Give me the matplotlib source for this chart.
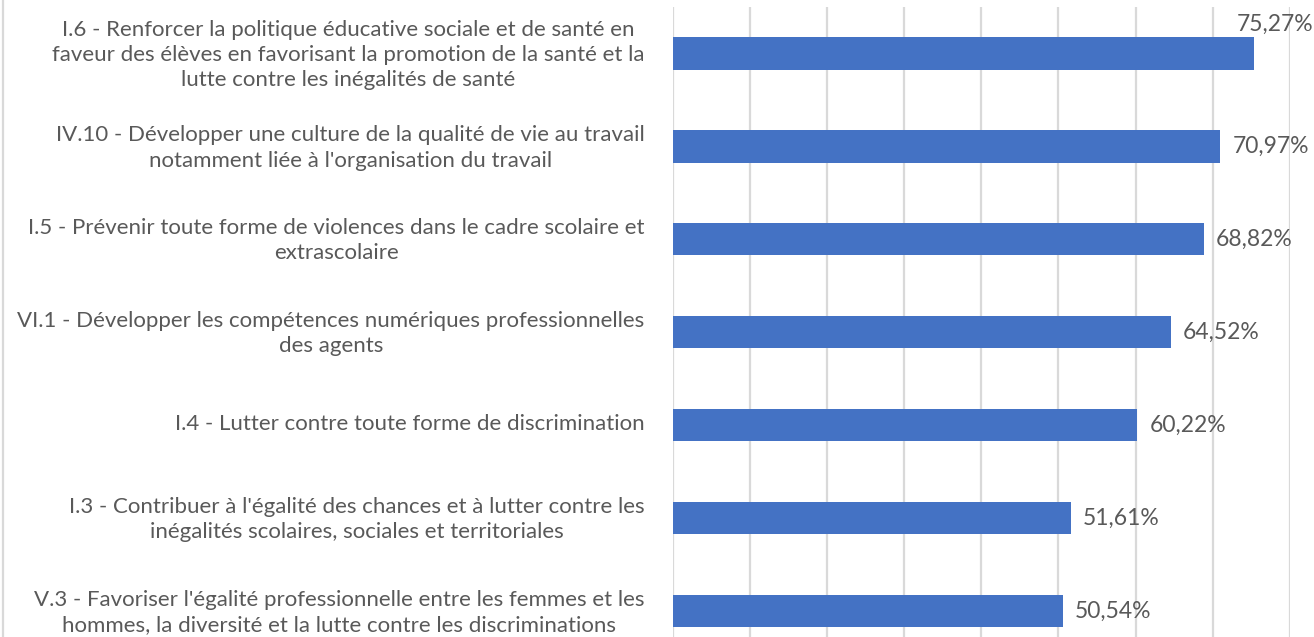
import matplotlib
matplotlib.use("Agg")
import matplotlib.pyplot as plt
import matplotlib.transforms as mtransforms
from matplotlib.lines import Line2D

# Categories, top to bottom
categories = [
    "I.6 - Renforcer la politique éducative sociale et de santé en\n"
    "faveur des élèves en favorisant la promotion de la santé et la\n"
    "lutte contre les inégalités de santé",
    "IV.10 - Développer une culture de la qualité de vie au travail\n"
    "notamment liée à l'organisation du travail",
    "I.5 - Prévenir toute forme de violences dans le cadre scolaire et\n"
    "extrascolaire",
    "VI.1 - Développer les compétences numériques professionnelles\n"
    "des agents",
    "I.4 - Lutter contre toute forme de discrimination",
    "I.3 - Contribuer à l'égalité des chances et à lutter contre les\n"
    "inégalités scolaires, sociales et territoriales",
    "V.3 - Favoriser l'égalité professionnelle entre les femmes et les\n"
    "hommes, la diversité et la lutte contre les discriminations",
]
values = [75.27, 70.97, 68.82, 64.52, 60.22, 51.61, 50.54]

bar_color = "#4472C4"
text_color = "#595959"
grid_color = "#D9D9D9"

plt.rcParams["font.family"] = ["Lato", "DejaVu Sans"]

fig = plt.figure(figsize=(13.14, 6.37), dpi=100)
# axes area runs past the bottom edge, as in the cropped original
ax = fig.add_axes([0.5118, -0.0322, 0.4700, 1.0215])

y = list(range(len(categories)))
ax.barh(y, values, height=0.35, color=bar_color, zorder=3)

ax.set_xlim(0, 80)
ax.set_ylim(len(categories) - 0.5, -0.5)
ax.set_xticks(range(0, 81, 10))
ax.grid(axis="x", color=grid_color, linewidth=1.6, zorder=0)
ax.set_axisbelow(True)
for s in ax.spines.values():
    s.set_visible(False)

ax.set_yticks(y)
ax.set_yticklabels(categories, fontsize=16, color=text_color,
                   multialignment="center", linespacing=1.33)
ax.tick_params(axis="y", length=0, pad=20)
ax.tick_params(axis="x", bottom=False, labelbottom=False)

# nudge category labels up a little
shift = mtransforms.ScaledTranslation(0, 3 / 100, fig.dpi_scale_trans)
for lbl in ax.get_yticklabels():
    lbl.set_transform(lbl.get_transform() + shift)

for i, v in enumerate(values):
    label = f"{v:.2f}".replace(".", ",") + "%"
    if i == 0:
        # top label sits above its bar, like the original
        ax.annotate(label, (v, i), xytext=(-17, 29), textcoords="offset pixels",
                    ha="left", va="center", fontsize=16.5, color=text_color)
    else:
        ax.annotate(label, (v, i), xytext=(12, 0), textcoords="offset pixels",
                    ha="left", va="center", fontsize=16.5, color=text_color)

# light chart border on the left
fig.add_artist(Line2D([3 / 1314, 3 / 1314], [0, 1], transform=fig.transFigure,
                      color=grid_color, linewidth=1.6))

fig.savefig("out.png", dpi=100)
